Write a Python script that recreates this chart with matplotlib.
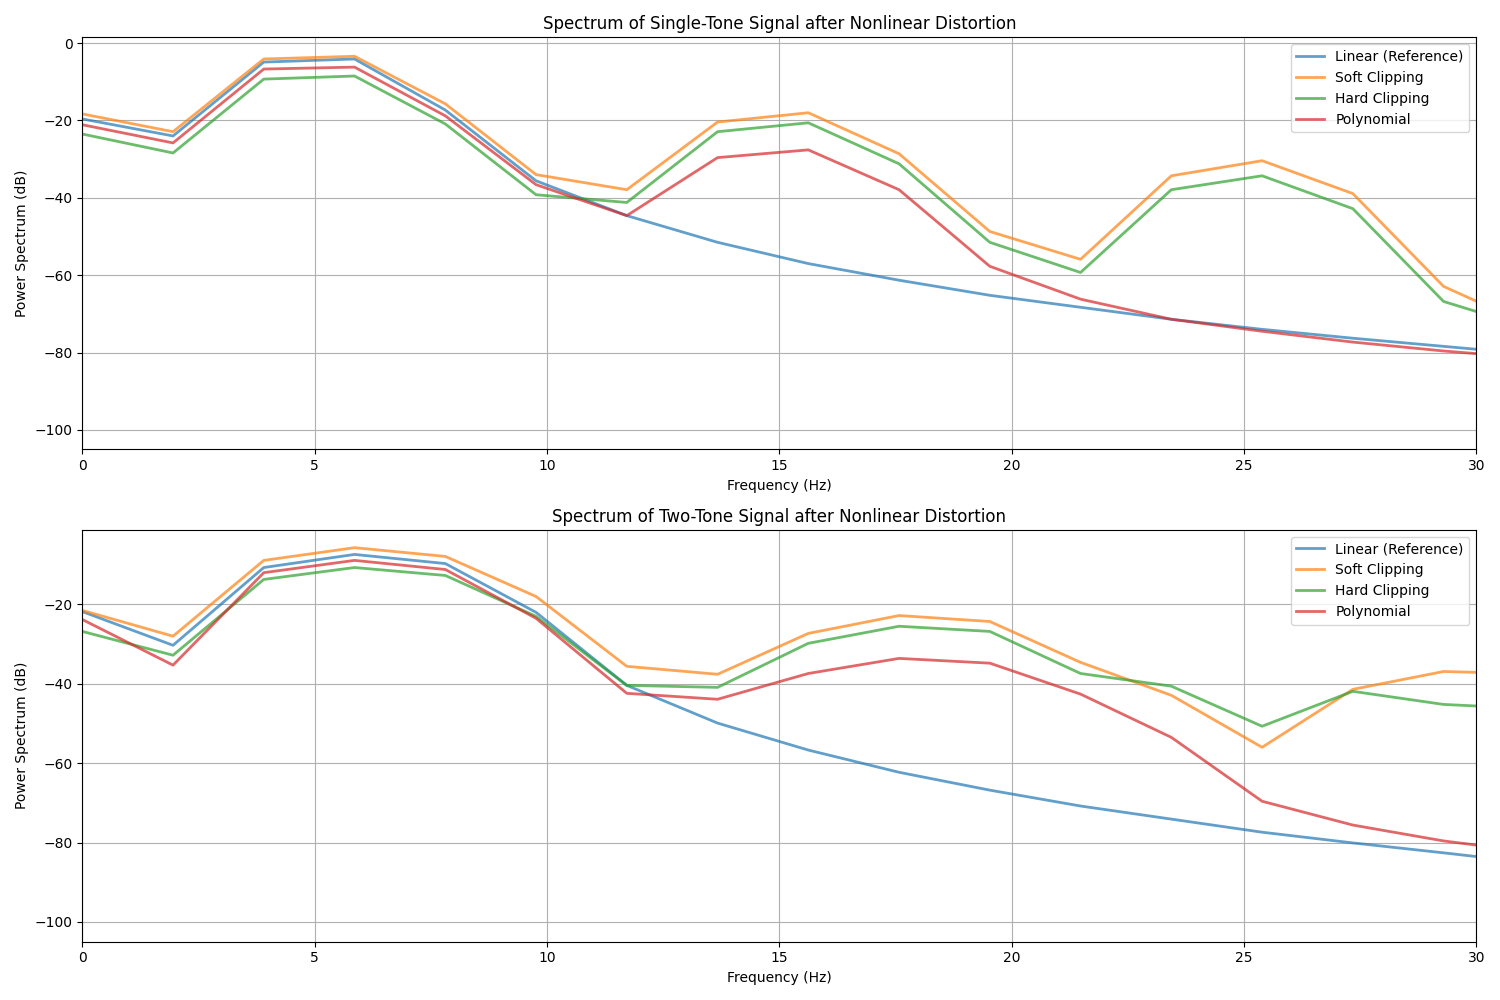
import matplotlib
matplotlib.use("Agg")
import matplotlib.pyplot as plt

freqs = [0.0, 1.953, 3.906, 5.859, 7.813, 9.766, 11.719, 13.672, 15.625,
         17.578, 19.531, 21.484, 23.438, 25.391, 27.344, 29.297, 31.25]

labels = ['Linear (Reference)', 'Soft Clipping', 'Hard Clipping', 'Polynomial']

# single-tone spectra (dB)
single_linear = [-19.6, -24.0, -4.9, -4.1, -17.3, -35.6, -44.6, -51.5, -57.0,
                 -61.3, -65.2, -68.3, -71.4, -74.0, -76.3, -78.4, -80.5]
single_soft = [-18.3, -22.9, -4.1, -3.4, -15.7, -34.0, -37.9, -20.4, -18.0,
               -28.6, -48.7, -55.9, -34.3, -30.4, -38.9, -62.9, -73.5]
single_hard = [-23.5, -28.4, -9.3, -8.5, -20.9, -39.2, -41.2, -22.9, -20.6,
               -31.2, -51.5, -59.3, -37.9, -34.3, -42.8, -66.8, -74.0]
single_poly = [-21.1, -25.8, -6.7, -6.2, -18.8, -36.6, -44.6, -29.6, -27.6,
               -37.9, -57.7, -66.2, -71.4, -74.5, -77.3, -79.6, -81.5]

# two-tone spectra (dB)
two_linear = [-21.8, -30.3, -10.7, -7.4, -9.7, -22.0, -40.4, -49.9, -56.7,
              -62.3, -66.8, -70.8, -74.1, -77.4, -80.1, -82.6, -85.2]
two_soft = [-21.5, -28.0, -8.9, -5.7, -7.9, -18.0, -35.6, -37.6, -27.3,
            -22.8, -24.3, -34.6, -42.9, -56.0, -41.4, -36.9, -37.5]
two_hard = [-26.8, -32.8, -13.7, -10.7, -12.7, -23.0, -40.4, -40.9, -29.8,
            -25.5, -26.8, -37.4, -40.6, -50.7, -41.9, -45.2, -46.3]
two_poly = [-23.8, -35.3, -12.0, -8.9, -11.2, -23.5, -42.4, -43.9, -37.4,
            -33.6, -34.8, -42.6, -53.5, -69.6, -75.6, -79.6, -82.5]


def plot_spectrum(ax, series, title, ylim):
    for s, lab in zip(series, labels):
        ax.plot(freqs, s, label=lab, linewidth=2, alpha=0.7)
    ax.set_title(title)
    ax.set_xlabel('Frequency (Hz)')
    ax.set_ylabel('Power Spectrum (dB)')
    ax.set_xlim(0, 30)
    ax.set_ylim(*ylim)
    ax.grid(True)
    ax.legend(loc='upper right')


fig, (ax1, ax2) = plt.subplots(2, 1, figsize=(15, 10), dpi=100)
plot_spectrum(ax1, [single_linear, single_soft, single_hard, single_poly],
              'Spectrum of Single-Tone Signal after Nonlinear Distortion', (-105, 1.5))
plot_spectrum(ax2, [two_linear, two_soft, two_hard, two_poly],
              'Spectrum of Two-Tone Signal after Nonlinear Distortion', (-105, -1.2))
plt.tight_layout()
plt.savefig('out.png')
